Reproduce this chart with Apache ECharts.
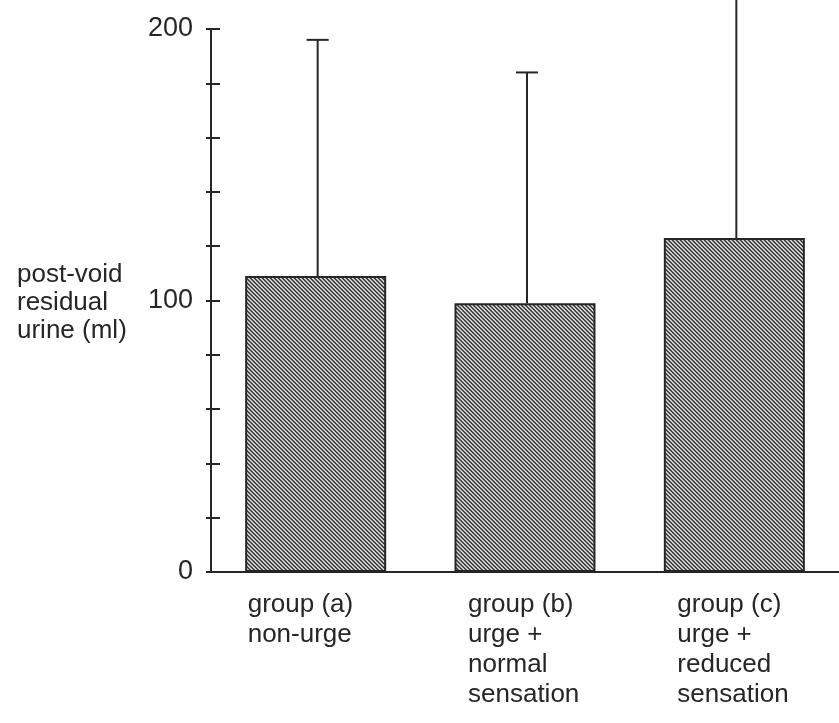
<!DOCTYPE html>
<html>
<head>
<meta charset="utf-8">
<script src="https://cdn.jsdelivr.net/npm/echarts@6/dist/echarts.min.js"></script>
<style>
    html, body {margin: 0; padding: 0; background: #fff;}
    #chart {width: 839px; height: 723px;}
</style>
</head>
<body>
<div id="chart"></div>
<script>
// values
const categories = [
    'group (a)\nnon-urge',
    'group (b)\nurge +\nnormal\nsensation',
    'group (c)\nurge +\nreduced\nsensation'
];
const meanValues = [109, 99, 123];
const upperValues = [196, 184, 220];
const yLabelValues = [0, 100, 200];
const yAxisTitle = ['post-void', 'residual', 'urine (ml)'];

const ink = '#262626';
const fontFamily = '"Liberation Sans", Arial, sans-serif';

// diagonal hatching like the printed bars
function hatchPattern(){
    let c = document.createElement('canvas');
    c.width = 4;
    c.height = 4;
    let ctx = c.getContext('2d');
    ctx.fillStyle = '#e4e4e4';
    ctx.fillRect(0, 0, 4, 4);
    for(let i = 0; i < 4; i++){
        ctx.fillStyle = '#353535';
        ctx.fillRect(i, i, 1, 1);
        ctx.fillStyle = '#5e5e5e';
        ctx.fillRect((i + 1) % 4, i, 1, 1);
        ctx.fillStyle = '#b0b0b0';
        ctx.fillRect((i + 3) % 4, i, 1, 1);
    }
    return c;
}

function renderErrorBar(params, api){
    let x = api.value(0);
    let base = api.coord([x, api.value(1)]);
    let top = api.coord([x, api.value(2)]);
    let style = {stroke: ink, lineWidth: 2};
    return {
        type: 'group',
        children: [
            {type: 'line', shape: {x1: base[0] + 2, y1: base[1], x2: top[0] + 2, y2: top[1]}, style: style},
            {type: 'line', shape: {x1: top[0] - 9, y1: top[1], x2: top[0] + 13, y2: top[1]}, style: style}
        ]
    };
}

let labelText = {
    align: 'left',
    fontSize: 26,
    lineHeight: 30,
    color: ink,
    fontFamily: fontFamily
};

let myChart = echarts.init(document.getElementById('chart'));
let option = {
    animation: false,
    backgroundColor: '#fff',
    textStyle: {fontFamily: fontFamily},
    grid: {left: 211, right: -4, top: 29, bottom: 151},
    xAxis: {
        type: 'category',
        data: categories,
        axisLine: {onZero: false, lineStyle: {color: ink, width: 2}},
        axisTick: {show: false},
        axisLabel: {
            margin: 18,
            formatter: (v, i) => {
                let key = i === 0 ? 'ta' : 't';
                return v.split('\n').map(s => '{' + key + '|' + s + '}').join('\n');
            },
            rich: {
                t: Object.assign({width: 114}, labelText),
                ta: Object.assign({width: 136}, labelText)
            }
        }
    },
    yAxis: [
        {
            type: 'value',
            min: 0,
            max: 200,
            interval: 20,
            axisLine: {show: true, lineStyle: {color: ink, width: 2}},
            axisTick: {show: true, inside: true, length: 9, lineStyle: {color: ink, width: 2}},
            splitLine: {show: false},
            axisLabel: {
                margin: 18,
                fontSize: 27,
                color: ink,
                fontFamily: fontFamily,
                formatter: v => yLabelValues.indexOf(v) >= 0 ? String(v) : ''
            }
        },
        {
            type: 'value',
            min: 0,
            max: 200,
            interval: 20,
            position: 'left',
            axisLine: {show: false},
            axisTick: {show: true, inside: false, length: 5, lineStyle: {color: ink, width: 2}},
            axisLabel: {show: false},
            splitLine: {show: false}
        }
    ],
    graphic: [{
        type: 'text',
        left: 17,
        top: 261,
        style: {
            text: yAxisTitle.join('\n'),
            fontSize: 26,
            lineHeight: 28,
            fill: ink,
            fontFamily: fontFamily
        }
    }],
    series: [
        {
            type: 'bar',
            data: meanValues,
            barWidth: 141,
            itemStyle: {
                color: {image: hatchPattern(), repeat: 'repeat'},
                borderColor: ink,
                borderWidth: 2
            }
        },
        {
            type: 'custom',
            renderItem: renderErrorBar,
            clip: false,
            z: 5,
            data: meanValues.map((m, i) => [i, m, upperValues[i]])
        }
    ]
};
myChart.setOption(option);
</script>
</body>
</html>
